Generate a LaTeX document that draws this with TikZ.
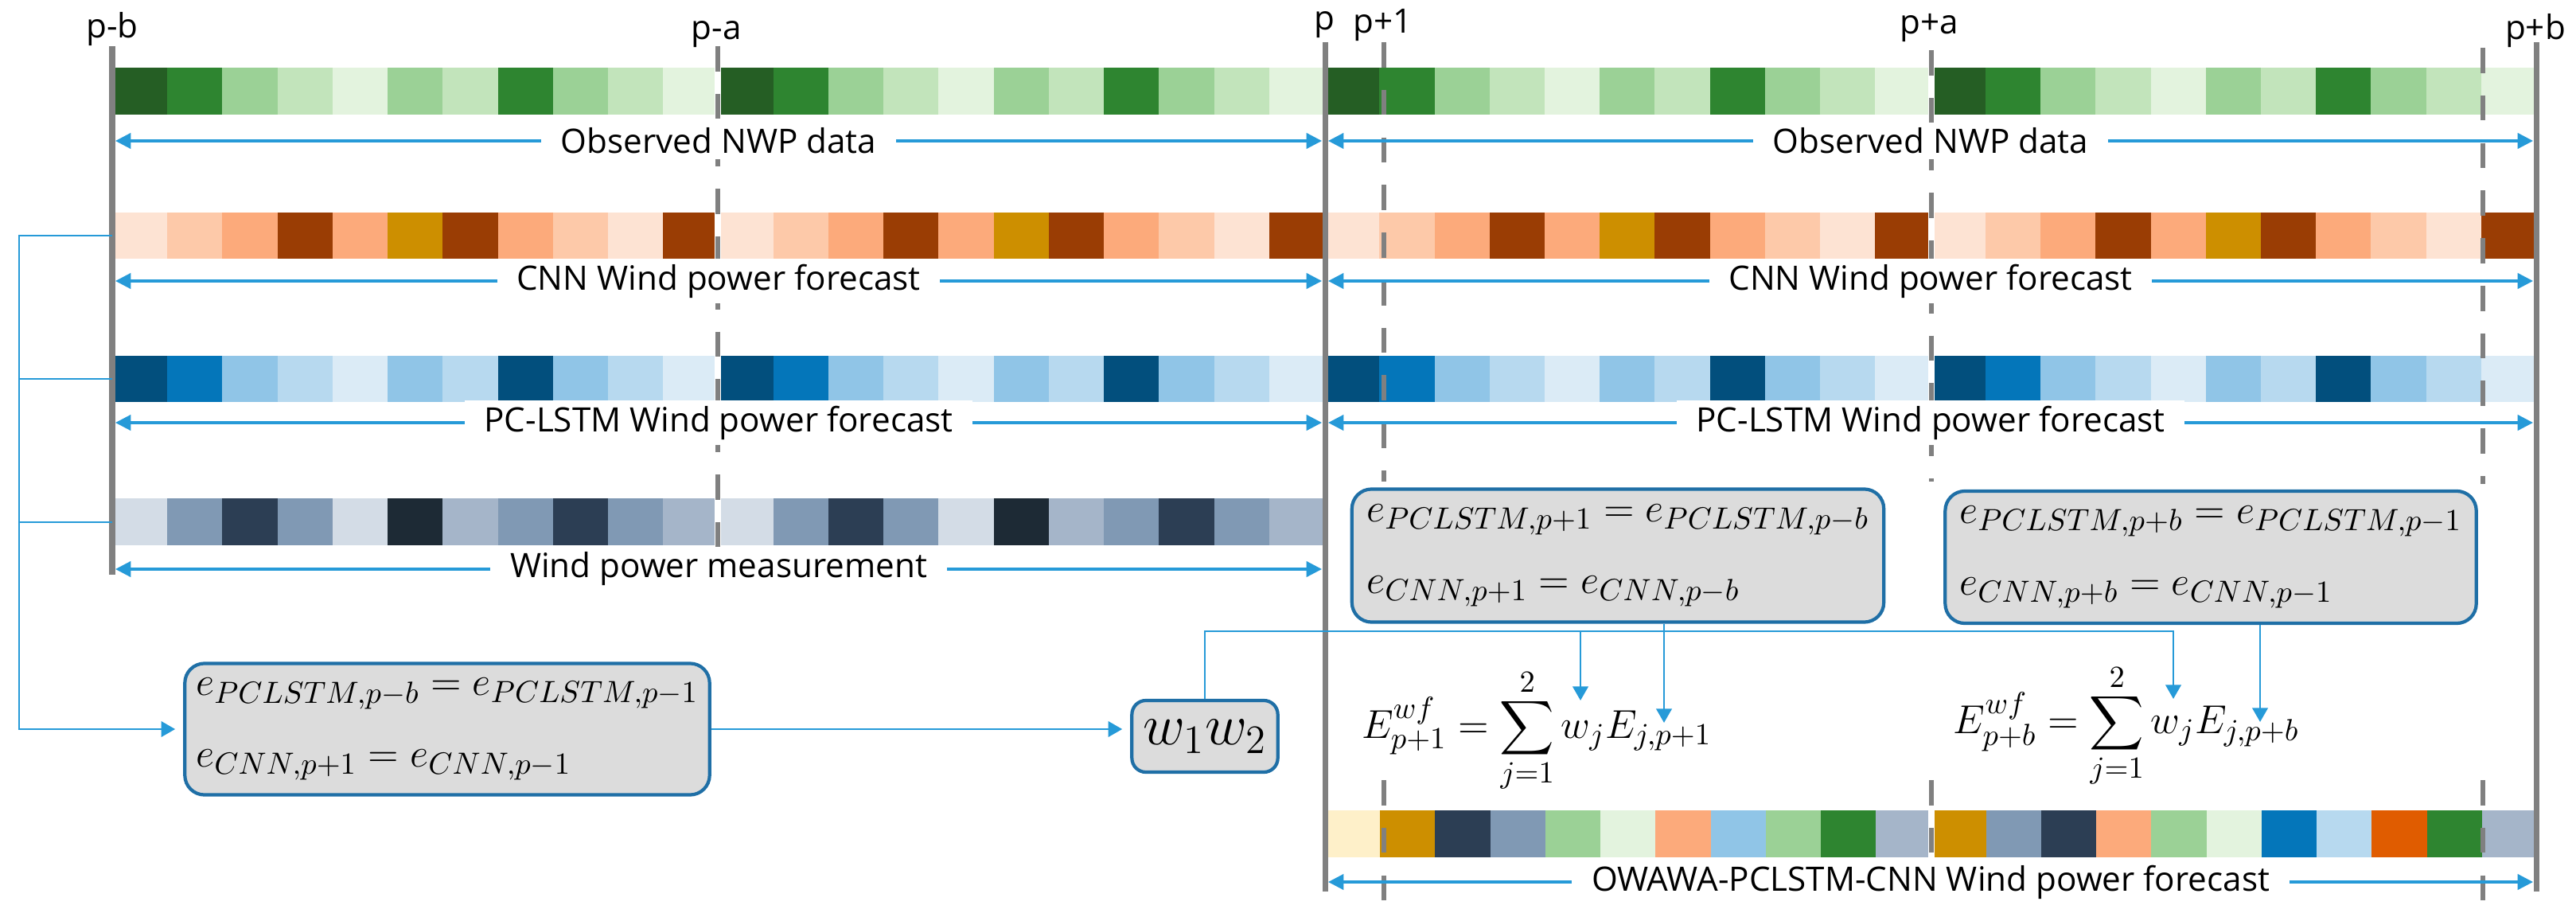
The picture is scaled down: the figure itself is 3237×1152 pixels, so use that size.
\documentclass[tikz,border=0pt]{standalone}
\usepackage{fontspec}
\usepackage{graphicx}
\setmainfont{Open Sans}
\usetikzlibrary{arrows.meta,positioning}

\definecolor{nwpA}{RGB}{37,94,36}
\definecolor{nwpB}{RGB}{46,133,48}
\definecolor{nwpC}{RGB}{155,209,150}
\definecolor{nwpD}{RGB}{194,228,187}
\definecolor{nwpE}{RGB}{227,243,222}
\definecolor{cnnA}{RGB}{253,227,211}
\definecolor{cnnB}{RGB}{253,201,169}
\definecolor{cnnC}{RGB}{252,170,123}
\definecolor{cnnD}{RGB}{154,61,4}
\definecolor{cnnE}{RGB}{205,143,0}
\definecolor{lstA}{RGB}{2,79,125}
\definecolor{lstB}{RGB}{4,118,186}
\definecolor{lstC}{RGB}{144,197,231}
\definecolor{lstD}{RGB}{183,217,239}
\definecolor{lstE}{RGB}{219,235,246}
\definecolor{msrA}{RGB}{211,220,230}
\definecolor{msrB}{RGB}{165,181,201}
\definecolor{msrC}{RGB}{128,153,180}
\definecolor{msrD}{RGB}{44,62,84}
\definecolor{msrE}{RGB}{29,42,53}
\definecolor{owaA}{RGB}{254,240,201}
\definecolor{owaB}{RGB}{224,92,0}
\definecolor{linegray}{RGB}{128,128,128}
\definecolor{arrowblue}{RGB}{38,154,216}
\definecolor{boxblue}{RGB}{31,111,166}
\definecolor{boxgray}{RGB}{220,220,220}

\newcommand{\bigsum}{\mathop{\vcenter{\hbox{\scalebox{1.35}{$\displaystyle\sum$}}}}\limits}

\tikzset{
  tick/.style={anchor=base, inner sep=0pt, font=\fontsize{12}{14}\selectfont},
  edge/.style={linegray, line width=2pt},
  cut/.style={linegray, line width=1.6pt, dash pattern=on 9pt off 8pt},
  span/.style={arrowblue, line width=0.9pt, >={Triangle[length=5.5pt,width=5.5pt]}, <->},
  spantext/.style={fill=white, inner xsep=7pt, inner ysep=2pt, text=black, font=\fontsize{12}{14}\selectfont},
  link/.style={arrowblue, line width=0.8pt},
  tip/.style={>={Triangle[length=5pt,width=5.5pt]}, ->},
  errbox/.style={draw=boxblue, fill=boxgray, line width=1.2pt, rounded corners=7pt, align=left, inner xsep=4pt, font=\fontsize{15.5}{25.6}\selectfont},
  sumtext/.style={inner sep=1pt, font=\fontsize{15}{18}\selectfont},
}

\begin{document}
\begin{tikzpicture}[x=0.01cm, y=-0.01cm]
    \useasboundingbox (0,0) rectangle (3237,1152);

    % colour bars
    \foreach \g in {0,...,3}
      \foreach \c [count=\i from 0] in {nwpA,nwpB,nwpC,nwpD,nwpE,nwpC,nwpD,nwpB,nwpC,nwpD,nwpE}
        \fill[\c] ({141+(11*\g+\i)*69.23},85) rectangle ++(69.5,59);
    \foreach \g in {0,...,3}
      \foreach \c [count=\i from 0] in {cnnA,cnnB,cnnC,cnnD,cnnC,cnnE,cnnD,cnnC,cnnB,cnnA,cnnD}
        \fill[\c] ({141+(11*\g+\i)*69.23},267) rectangle ++(69.5,58);
    \foreach \g in {0,...,3}
      \foreach \c [count=\i from 0] in {lstA,lstB,lstC,lstD,lstE,lstC,lstD,lstA,lstC,lstD,lstE}
        \fill[\c] ({141+(11*\g+\i)*69.23},447) rectangle ++(69.5,58);
    \foreach \g in {0,1}
      \foreach \c [count=\i from 0] in {msrA,msrC,msrD,msrC,msrA,msrE,msrB,msrC,msrD,msrC,msrB}
        \fill[\c] ({141+(11*\g+\i)*69.23},626) rectangle ++(69.5,59);
    \foreach \c [count=\i from 0] in {owaA,cnnE,msrD,msrC,nwpC,nwpE,cnnC,lstC,nwpC,nwpB,msrB,
                                      cnnE,msrC,msrD,cnnC,nwpC,nwpE,lstB,lstD,owaB,nwpB,msrB}
        \fill[\c] ({1665+\i*69.23},1018) rectangle ++(69.5,59);
    \fill[white] (898,80) rectangle (906,690);
    \fill[white] (2423,80) rectangle (2431,1082);

    % time marks
    \draw[edge] (141,58) -- (141,722);
    \draw[cut] (902,58) -- (902,690);
    \draw[edge] (1665,53) -- (1665,1120);
    \draw[cut] (1739,53) -- (1739,605);
    \draw[cut] (1739,980) -- (1739,1133);
    \draw[cut] (2427,63) -- (2427,605);
    \draw[cut] (2427,980) -- (2427,1077);
    \draw[cut] (3120,60) -- (3120,608);
    \draw[cut] (3120,980) -- (3120,1133);
    \draw[edge] (3187,53) -- (3187,1120);

    \node[tick] (tpb) at (141,48) {p-b};
    \node[tick] (tpa) at (900,50) {p-a};
    \node[tick] (tp) at (1664,38) {p};
    \node[tick] (tp1) at (1738,42) {p+1};
    \node[tick] (tpap) at (2424,43) {p+a};
    \node[tick] (tpbp) at (3186,50) {p+b};

    % spans
    \draw[span] (145,177) -- (1661,177) node[spantext, midway] (nwpL) {Observed NWP data};
    \draw[span] (1669,177) -- (3183,177) node[spantext, midway] (nwpR) {Observed NWP data};
    \draw[span] (145,353) -- (1661,353) node[spantext, midway] (cnnL) {CNN Wind power forecast};
    \draw[span] (1669,353) -- (3183,353) node[spantext, midway] (cnnR) {CNN Wind power forecast};
    \draw[span] (145,531) -- (1661,531) node[spantext, midway] (lstL) {PC-LSTM Wind power forecast};
    \draw[span] (1669,531) -- (3183,531) node[spantext, midway] (lstR) {PC-LSTM Wind power forecast};
    \draw[span] (145,715) -- (1661,715) node[spantext, midway] (msrL) {Wind power measurement};
    \draw[span] (1669,1108) -- (3183,1108) node[spantext, midway] (owa) {OWAWA-PCLSTM-CNN Wind power forecast};

    % error boxes
    \node[errbox, minimum width=6.53cm, minimum height=1.65cm] (errL) at (562,916)
        {$e_{PCLSTM,p-b} = e_{PCLSTM,p-1}$\\$e_{CNN,p+1} = e_{CNN,p-1}$};
    \node[errbox, minimum width=6.68cm, minimum height=1.67cm] (errA) at (2033,698)
        {$e_{PCLSTM,p+1} = e_{PCLSTM,p-b}$\\$e_{CNN,p+1} = e_{CNN,p-b}$};
    \node[errbox, minimum width=6.67cm, minimum height=1.66cm] (errB) at (2778,700)
        {$e_{PCLSTM,p+b} = e_{PCLSTM,p-1}$\\$e_{CNN,p+b} = e_{CNN,p-1}$};
    \node[errbox, rounded corners=5pt, minimum width=1.65cm, minimum height=0.9cm,
          font=\fontsize{20}{24}\selectfont] (wbox) at (1514,925) {$w_1 w_2$};

    \node[sumtext] (sumA) at (1931,918)
        {$\displaystyle E^{wf}_{p+1} = \bigsum_{j=1}^{2} w_j E_{j,p+1}$};
    \node[sumtext] (sumB) at (2672,912)
        {$\displaystyle E^{wf}_{p+b} = \bigsum_{j=1}^{2} w_j E_{j,p+b}$};

    % links
    \coordinate (bus) at (24,296);
    \coordinate (cnnIn) at (141,296);
    \coordinate (lstIn) at (141,476);
    \coordinate (msrIn) at (141,656);
    \coordinate (rail) at (1515,793);
    \coordinate (wA) at (1986,880);
    \coordinate (wB) at (2731,878);
    \coordinate (eA) at (2091,908);
    \coordinate (eB) at (2840,907);

    \draw[link, tip, shorten >=1mm] (cnnIn) -| (errL.west -| bus) -- (errL.west);
    \draw[link] (lstIn) -- (lstIn -| bus);
    \draw[link] (msrIn) -- (msrIn -| bus);
    \draw[link, tip, shorten >=1mm] (errL.east) -- (errL.east -| wbox.west);
    \draw[link, tip] (wbox.north) |- (wB |- rail) -- (wB);
    \draw[link, tip] (wA |- rail) -- (wA);
    \draw[link, tip] (errA.south -| eA) -- (eA);
    \draw[link, tip] (errB.south -| eB) -- (eB);
\end{tikzpicture}
\end{document}
